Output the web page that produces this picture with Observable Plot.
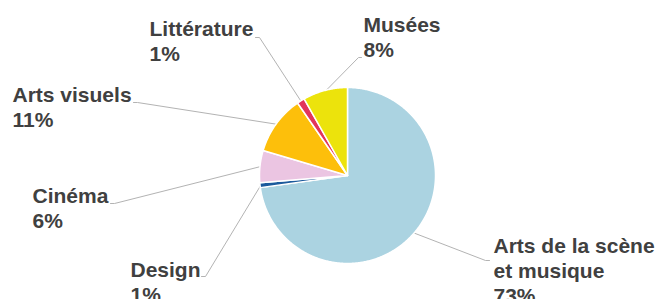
<!DOCTYPE html>
<html>
<head>
<meta charset="utf-8">
<script src="https://cdn.jsdelivr.net/npm/d3@7"></script>
<script src="https://cdn.jsdelivr.net/npm/@observablehq/plot@0.6"></script>
<style>
  html, body { margin: 0; padding: 0; background: #fff; }
  #chart svg { display: block; }
</style>
</head>
<body>
<div id="chart"></div>
<script>
// ---- data ----
const categories = ["Arts de la scène et musique", "Design", "Cinéma", "Arts visuels", "Littérature", "Musées"];
const nameLines = ["Arts de la scène\net musique", "Design", "Cinéma", "Arts visuels", "Littérature", "Musées"];
const shares = [72.8, 0.9, 5.9, 10.8, 1.4, 8.2];
const pctLabels = ["73%", "1%", "6%", "11%", "1%", "8%"];
const colors = ["#abd3e1", "#1c5a9c", "#ebc5e2", "#fdbf0b", "#e2345c", "#ece30c"];

// ---- layout (pixel units) ----
const W = 659, H = 299;
const pie = {cx: 347, cy: 175, r: 88};
const labelAt = [[493, 235], [130, 259], [32, 185], [12, 84], [149, 18], [363, 14]];
const leaderAt = [
  [[489, 260], [485, 260]],
  [[201, 276], [205, 276]],
  [[110, 203], [114, 203]],
  [[133, 102], [137, 102]],
  [[255, 37], [259, 37]],
  [[361, 57], [358, 57]]
];

// ---- geometry from data ----
const arcs = d3.pie().sort(null).value(d => d)(shares);
const slicePts = [];
const leaderPts = [];
arcs.forEach((a, i) => {
  const cat = categories[i];
  const n = Math.max(2, Math.ceil((a.endAngle - a.startAngle) / 0.01));
  slicePts.push({cat, x: pie.cx, y: pie.cy});
  for (let k = 0; k <= n; k++) {
    const ang = a.startAngle + (a.endAngle - a.startAngle) * k / n;
    slicePts.push({cat, x: pie.cx + pie.r * Math.sin(ang), y: pie.cy - pie.r * Math.cos(ang)});
  }
  slicePts.push({cat, x: pie.cx, y: pie.cy});
  const mid = (a.startAngle + a.endAngle) / 2;
  const [p0, p1] = leaderAt[i];
  leaderPts.push({cat, x: p0[0], y: p0[1]});
  leaderPts.push({cat, x: p1[0], y: p1[1]});
  leaderPts.push({cat, x: pie.cx + pie.r * 0.99 * Math.sin(mid), y: pie.cy - pie.r * 0.99 * Math.cos(mid)});
});
const labels = categories.map((c, i) => ({cat: c, x: labelAt[i][0], y: labelAt[i][1], text: nameLines[i] + "\n" + pctLabels[i]}));

const chart = Plot.plot({
  width: W,
  height: H,
  margin: 0,
  x: {domain: [0, W], range: [0, W], axis: null},
  y: {domain: [0, H], range: [0, H], axis: null},
  color: {domain: categories, range: colors},
  style: {fontFamily: "'Liberation Sans', Arial, sans-serif", background: "#fff"},
  marks: [
    Plot.line(leaderPts, {x: "x", y: "y", z: "cat", stroke: "#b3b3b3", strokeWidth: 1, curve: "linear"}),
    Plot.line(slicePts, {x: "x", y: "y", z: "cat", fill: "cat", stroke: "#ffffff", strokeWidth: 1.5, strokeLinejoin: "round", curve: "linear"}),
    Plot.text(labels, {
      x: "x", y: "y", text: "text",
      textAnchor: "start", lineAnchor: "top", lineHeight: 1.19,
      fontSize: 21, fontWeight: "bold", fill: "#404040"
    })
  ]
});
document.getElementById("chart").appendChild(chart);
</script>
</body>
</html>
